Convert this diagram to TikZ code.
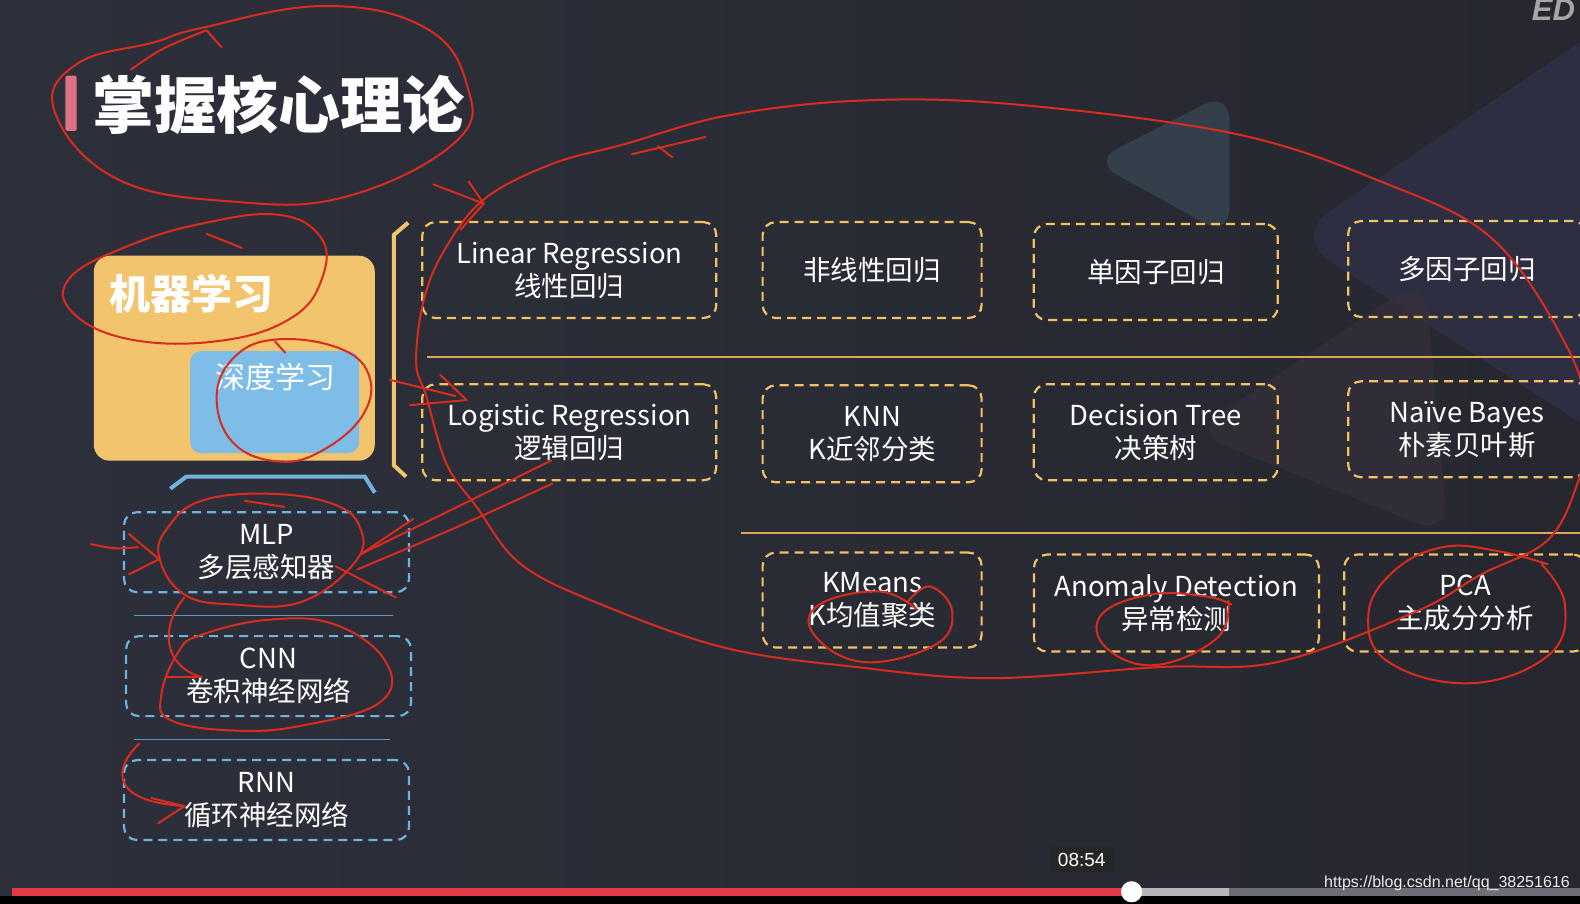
\documentclass[tikz,border=0pt]{standalone}
\usepackage{fontspec}
\setmainfont{Noto Sans CJK SC}
\newfontfamily\urlfont{Liberation Sans}
\usetikzlibrary{positioning,calc}
\definecolor{slidebg}{HTML}{2D303B}
\definecolor{slidebgdark}{HTML}{26272F}
\definecolor{tealtri}{HTML}{33404C}
\definecolor{purpletri}{HTML}{2D2E42}
\definecolor{browntri}{HTML}{36303A}
\definecolor{titlebar}{HTML}{DC7283}
\definecolor{mlorange}{HTML}{F2C46D}
\definecolor{dlblue}{HTML}{7DBDE7}
\definecolor{boxyellow}{HTML}{F0C262}
\definecolor{lineyellow}{HTML}{D9A85A}
\definecolor{boxblue}{HTML}{6EB3E0}
\definecolor{lineblue}{HTML}{5F93BA}
\definecolor{inkred}{HTML}{D92B1E}
\definecolor{barred}{HTML}{E33A46}
\definecolor{barlight}{HTML}{B5B5BA}
\definecolor{bardark}{HTML}{6E6E77}

\begin{document}
\begin{tikzpicture}[x=1.0077pt, y=-1.0077pt,
  every node/.style={text=white, align=center, inner sep=0pt},
  yellowbox/.style={draw=boxyellow, line width=2.2pt, dash pattern=on 9pt off 6pt,
    rounded corners=13pt, font=\fontsize{27.5}{33}\selectfont},
  bluebox/.style={draw=boxblue, line width=2.2pt, dash pattern=on 9pt off 6pt,
    rounded corners=13pt, minimum width=285, minimum height=80, font=\fontsize{27.5}{33}\selectfont},
  sepyellow/.style={draw=lineyellow, line width=1.6pt},
  sepblue/.style={draw=lineblue, line width=1.4pt},
  ink/.style={draw=inkred, line width=2pt, line cap=round, line join=round}]
  \clip (0,0) rectangle (1568,897);
  % background
  \shade[left color=slidebg, right color=slidebgdark] (0,0) rectangle (1568,897);
  \fill[tealtri, rounded corners=28pt] (1084,160) -- (1220,91) -- (1220,235) -- cycle;
  \fill[purpletri, rounded corners=45pt] (1282,235) -- (1600,20) -- (1600,440) -- cycle;
  \fill[browntri, opacity=0.7, rounded corners=35pt] (1183,429) -- (1414,274) -- (1437,532) -- cycle;
  \node[anchor=west, text=gray!70, font=\urlfont\fontsize{31}{31}\selectfont\bfseries\itshape] (logo) at (1520,10) {ED};

  % title
  \fill[titlebar, rounded corners=1.5pt] (65,75) rectangle (76,130);
  \node[anchor=west, font=\fontsize{62}{62}\selectfont\bfseries] (title) at (92,104) {掌握核心理论};

  % machine learning / deep learning
  \node[fill=mlorange, rounded corners=16pt, minimum width=281, minimum height=205] (ml) at (232.5,355.5) {};
  \node[anchor=west, font=\fontsize{41}{41}\selectfont\bfseries] (mltext) at (108,291) {机器学习};
  \node[fill=dlblue, rounded corners=11pt, minimum width=169, minimum height=102] (dl) at (272.5,399) {};
  \node[font=\fontsize{30}{30}\selectfont] (dltext) at (273,374) {深度学习};
  \draw[draw=boxblue, line width=4pt] (169,485) -- (185,473) -- (362,473) -- (372,489);
  \draw[draw=mlorange, line width=4pt] (405,221) -- (391,233) -- (391,462) -- (403,473);

  % deep learning models
  \node[bluebox] (mlp) at (264.5,548) {MLP\\多层感知器};
  \node[bluebox] (cnn) at (266.5,671) {CNN\\卷积神经网络};
  \node[bluebox] (rnn) at (264.5,794) {RNN\\循环神经网络};
  \draw[sepblue] (133,611) -- (390,611);
  \draw[sepblue] (133,734) -- (387,734);

  % machine learning models
  \node[yellowbox, minimum width=294, minimum height=96] (linreg) at (565,268) {Linear Regression\\线性回归};
  \node[yellowbox, minimum width=219, minimum height=96] (nonlin) at (865.5,268) {非线性回归};
  \node[yellowbox, minimum width=244, minimum height=96] (single) at (1147,270) {单因子回归};
  \node[yellowbox, minimum width=238, minimum height=96] (multi) at (1456,267) {多因子回归};
  \draw[sepyellow] (424,354) -- (1568,354);
  \node[yellowbox, minimum width=294, minimum height=96] (logreg) at (565,429) {Logistic Regression\\逻辑回归};
  \node[yellowbox, minimum width=219, minimum height=97] (knn) at (865.5,430.5) {KNN\\K近邻分类};
  \node[yellowbox, minimum width=244, minimum height=96] (dtree) at (1147,429) {Decision Tree\\决策树};
  \node[yellowbox, minimum width=238, minimum height=96] (bayes) at (1456,426) {Naïve Bayes\\朴素贝叶斯};
  \draw[sepyellow] (735,529) -- (1568,529);
  \node[yellowbox, minimum width=219, minimum height=95] (kmeans) at (865.5,595.5) {KMeans\\K均值聚类};
  \node[yellowbox, minimum width=285, minimum height=97] (anomaly) at (1167.5,598.5) {Anomaly Detection\\异常检测};
  \node[yellowbox, minimum width=242, minimum height=97] (pca) at (1454,598.5) {PCA\\主成分分析};

  % video player
  \fill[black] (0,889) rectangle (1568,897);
  \fill[bardark] (1220,881) rectangle (1568,889);
  \fill[barlight] (1122,881) rectangle (1220,889);
  \fill[barred] (12,881) rectangle (1122,889);
  \fill[white] (1123,885) circle (10.5);
  \node[fill=black!85, rounded corners=2pt, minimum width=63, minimum height=25,
    font=\urlfont\fontsize{19}{19}\selectfont] (clock) at (1073.5,853) {08:54};
  \node[anchor=east, text=white!85!gray, font=\urlfont\fontsize{16}{16}\selectfont] (url) at (1558,877) {https://blog.csdn.net/qq\_38251616};

  % red ink
  \draw[ink] plot[smooth cycle, tension=0.7] coordinates {(199,28) (321,6) (421,27) (463,83) (453,140) (344,195) (230,200) (115,177) (54,110) (77,63) (153,42)};
  \draw[ink] (130,69) .. controls (160,48) .. (205,30) -- (220,47);
  \draw[ink] plot[smooth cycle, tension=0.7] coordinates {(130,243) (200,222) (275,213) (318,235) (320,275) (290,315) (220,338) (130,337) (72,310) (70,275)};
  \draw[ink] (205,232) -- (240,246);
  \draw[ink] plot[smooth cycle, tension=0.7] coordinates {(273,337) (335,345) (366,372) (360,412) (320,447) (277,458) (232,440) (215,395) (232,355)};
  \draw[ink] (273,339) -- (283,350);
  \draw[ink] plot[smooth cycle, tension=0.6] coordinates {(480,198) (547,163) (620,143) (720,115) (850,100) (1000,103) (1222,132) (1370,180) (1481,237) (1555,344) (1577,421) (1566,478) (1536,536) (1470,570) (1405,607) (1268,657) (1150,662) (983,673) (850,662) (720,643) (597,600) (517,560) (473,503) (443,460) (423,393) (413,360) (420,300) (440,250)};
  \draw[ink] (627,153) -- (700,136);
  \draw[ink] (653,145) -- (667,156);
  \draw[ink] (430,183) .. controls (455,192) .. (480,202);
  \draw[ink] (465,180) -- (480,202) -- (457,228);
  \draw[ink] (387,377) -- (452,393);
  \draw[ink] (407,402) -- (463,397) -- (437,372);
  \draw[ink] (547,457) .. controls (450,505) .. (358,550);
  \draw[ink] (548,480) .. controls (450,525) .. (355,565);
  \draw[ink] (410,515) -- (358,550);
  \draw[ink] plot[smooth cycle, tension=0.7] coordinates {(267,490) (330,500) (357,523) (353,557) (300,597) (233,600) (183,590) (158,553) (167,523) (200,497)};
  \draw[ink] (243,497) -- (282,503);
  \draw[ink] (333,562) -- (393,593);
  \draw[ink] (90,540) .. controls (115,545) .. (137,543);
  \draw[ink] (128,530) -- (158,555) -- (128,570);
  \draw[ink] (183,593) .. controls (160,620) and (160,660) .. (200,672);
  \draw[ink] (165,672) -- (200,672);
  \draw[ink] plot[smooth cycle, tension=0.7] coordinates {(200,630) (267,615) (333,620) (383,657) (377,697) (300,720) (233,725) (170,715) (160,690) (177,647)};
  \draw[ink] (138,738) .. controls (115,760) and (105,795) .. (183,800);
  \draw[ink] (150,792) -- (183,800) -- (157,817);
  \draw[ink] plot[smooth, tension=0.7] coordinates {(901,597) (923,582) (945,607) (928,640) (857,657) (808,630) (813,600) (873,587) (910,605)};
  \draw[ink] plot[smooth, tension=0.7] coordinates {(1219,596) (1208,633) (1147,660) (1098,643) (1093,610) (1142,590) (1197,592) (1222,600)};
  \draw[ink] plot[smooth, tension=0.7] coordinates {(1536,560) (1487,547) (1432,543) (1383,567) (1358,610) (1378,657) (1460,678) (1537,650) (1553,600) (1530,560)};
\end{tikzpicture}
\end{document}
